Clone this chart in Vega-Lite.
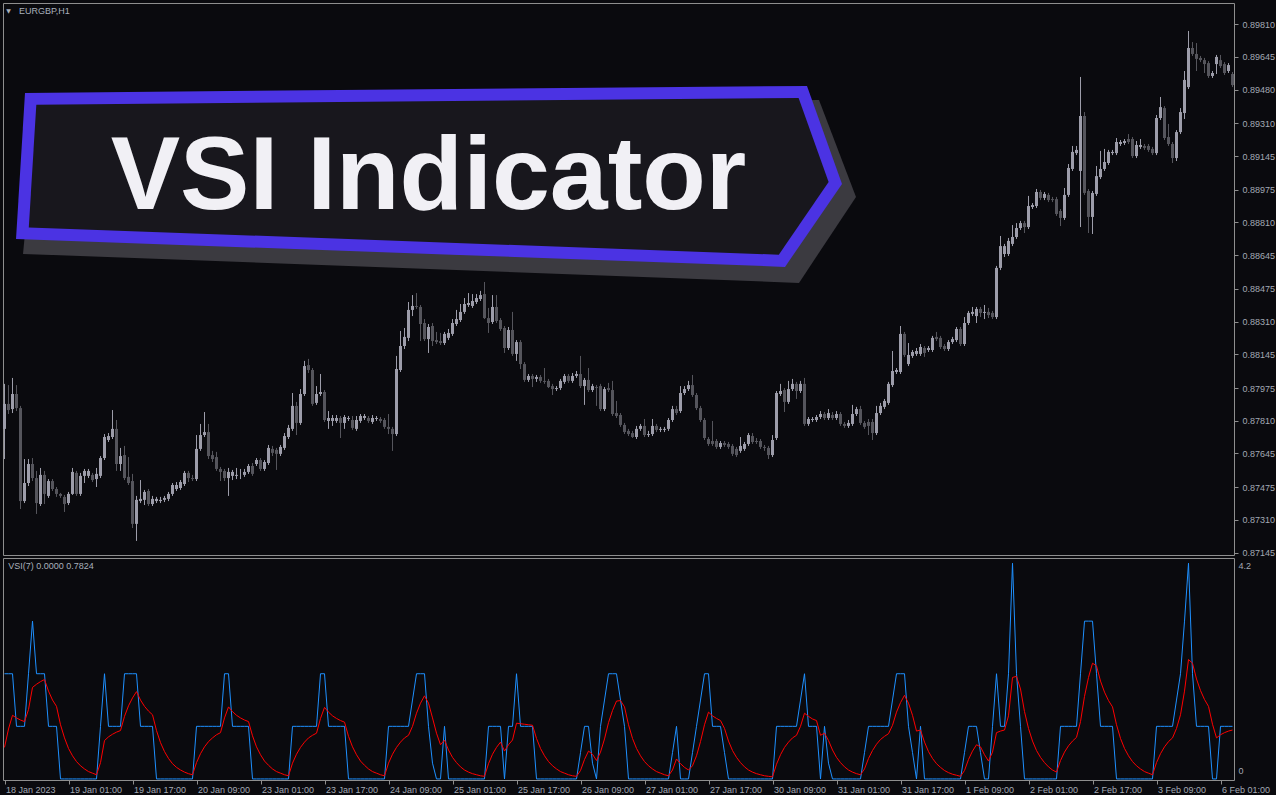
{
"$schema": "https://vega.github.io/schema/vega-lite/v6.json",
"background": "#0a0a0e",
"padding": {"left": 2, "top": 2, "right": 0, "bottom": 0},
"bounds": "flush",
"spacing": 3,
"config": {
  "view": {"stroke": "#8e8e8e", "strokeWidth": 1},
  "scale": {"continuousPadding": 0},
  "axis": {"grid": false, "domain": false, "labelOverlap": false, "labelFont": "Liberation Sans", "labelFontSize": 9, "labelColor": "#a3a9b4", "tickColor": "#8e8e8e"}
},
"datasets": {"d": [
{"i":0,"o":0.87769,"h":0.87996,"l":0.87617,"c":0.87895,"b":2,"r":0.6},
{"i":1,"o":0.87895,"h":0.87990,"l":0.87844,"c":0.87864,"b":2,"r":0.95},
{"i":2,"o":0.87869,"h":0.88026,"l":0.87849,"c":0.87945,"b":2,"r":1.21},
{"i":3,"o":0.87945,"h":0.87990,"l":0.87859,"c":0.87874,"b":1,"r":1.16},
{"i":4,"o":0.87874,"h":0.87885,"l":0.87365,"c":0.87405,"b":1,"r":1.12},
{"i":5,"o":0.87405,"h":0.87617,"l":0.87395,"c":0.87496,"b":1,"r":1.09},
{"i":6,"o":0.87496,"h":0.87617,"l":0.87481,"c":0.87592,"b":2,"r":1.32},
{"i":7,"o":0.87592,"h":0.87622,"l":0.87506,"c":0.87521,"b":3,"r":1.74},
{"i":8,"o":0.87521,"h":0.87557,"l":0.87340,"c":0.87395,"b":2,"r":1.8},
{"i":9,"o":0.87390,"h":0.87572,"l":0.87380,"c":0.87537,"b":2,"r":1.85},
{"i":10,"o":0.87537,"h":0.87557,"l":0.87390,"c":0.87441,"b":2,"r":1.89},
{"i":11,"o":0.87431,"h":0.87516,"l":0.87421,"c":0.87506,"b":1,"r":1.67},
{"i":12,"o":0.87506,"h":0.87516,"l":0.87456,"c":0.87466,"b":1,"r":1.5},
{"i":13,"o":0.87466,"h":0.87476,"l":0.87426,"c":0.87441,"b":1,"r":1.38},
{"i":14,"o":0.87441,"h":0.87446,"l":0.87421,"c":0.87431,"b":0,"r":1.03},
{"i":15,"o":0.87426,"h":0.87436,"l":0.87350,"c":0.87390,"b":0,"r":0.78},
{"i":16,"o":0.87395,"h":0.87451,"l":0.87385,"c":0.87441,"b":0,"r":0.58},
{"i":17,"o":0.87441,"h":0.87572,"l":0.87436,"c":0.87552,"b":0,"r":0.44},
{"i":18,"o":0.87547,"h":0.87557,"l":0.87431,"c":0.87441,"b":0,"r":0.33},
{"i":19,"o":0.87441,"h":0.87547,"l":0.87431,"c":0.87532,"b":0,"r":0.25},
{"i":20,"o":0.87532,"h":0.87567,"l":0.87496,"c":0.87557,"b":0,"r":0.19},
{"i":21,"o":0.87532,"h":0.87567,"l":0.87521,"c":0.87557,"b":0,"r":0.14},
{"i":22,"o":0.87537,"h":0.87547,"l":0.87501,"c":0.87511,"b":0,"r":0.11},
{"i":23,"o":0.87516,"h":0.87572,"l":0.87476,"c":0.87542,"b":0,"r":0.08},
{"i":24,"o":0.87532,"h":0.87632,"l":0.87521,"c":0.87622,"b":1,"r":0.31},
{"i":25,"o":0.87622,"h":0.87743,"l":0.87612,"c":0.87728,"b":2,"r":0.73},
{"i":26,"o":0.87713,"h":0.87748,"l":0.87703,"c":0.87733,"b":1,"r":0.8},
{"i":27,"o":0.87728,"h":0.87864,"l":0.87718,"c":0.87769,"b":1,"r":0.85},
{"i":28,"o":0.87769,"h":0.87814,"l":0.87557,"c":0.87592,"b":1,"r":0.89},
{"i":29,"o":0.87592,"h":0.87673,"l":0.87557,"c":0.87632,"b":1,"r":0.92},
{"i":30,"o":0.87637,"h":0.87683,"l":0.87511,"c":0.87521,"b":2,"r":1.19},
{"i":31,"o":0.87527,"h":0.87627,"l":0.87486,"c":0.87496,"b":2,"r":1.39},
{"i":32,"o":0.87506,"h":0.87542,"l":0.87269,"c":0.87290,"b":2,"r":1.54},
{"i":33,"o":0.87290,"h":0.87431,"l":0.87204,"c":0.87411,"b":2,"r":1.66},
{"i":34,"o":0.87405,"h":0.87511,"l":0.87395,"c":0.87416,"b":1,"r":1.5},
{"i":35,"o":0.87411,"h":0.87461,"l":0.87385,"c":0.87451,"b":1,"r":1.38},
{"i":36,"o":0.87456,"h":0.87466,"l":0.87380,"c":0.87390,"b":1,"r":1.29},
{"i":37,"o":0.87390,"h":0.87431,"l":0.87380,"c":0.87416,"b":1,"r":1.22},
{"i":38,"o":0.87405,"h":0.87426,"l":0.87395,"c":0.87416,"b":0,"r":0.92},
{"i":39,"o":0.87405,"h":0.87426,"l":0.87395,"c":0.87411,"b":0,"r":0.69},
{"i":40,"o":0.87411,"h":0.87431,"l":0.87400,"c":0.87421,"b":0,"r":0.52},
{"i":41,"o":0.87416,"h":0.87451,"l":0.87405,"c":0.87441,"b":0,"r":0.39},
{"i":42,"o":0.87441,"h":0.87496,"l":0.87431,"c":0.87486,"b":0,"r":0.29},
{"i":43,"o":0.87466,"h":0.87501,"l":0.87456,"c":0.87486,"b":0,"r":0.22},
{"i":44,"o":0.87471,"h":0.87511,"l":0.87461,"c":0.87501,"b":0,"r":0.17},
{"i":45,"o":0.87491,"h":0.87557,"l":0.87481,"c":0.87547,"b":0,"r":0.13},
{"i":46,"o":0.87547,"h":0.87557,"l":0.87501,"c":0.87521,"b":0,"r":0.1},
{"i":47,"o":0.87521,"h":0.87537,"l":0.87506,"c":0.87516,"b":0,"r":0.08},
{"i":48,"o":0.87516,"h":0.87738,"l":0.87506,"c":0.87668,"b":1,"r":0.31},
{"i":49,"o":0.87668,"h":0.87794,"l":0.87658,"c":0.87738,"b":1,"r":0.48},
{"i":50,"o":0.87738,"h":0.87854,"l":0.87728,"c":0.87753,"b":1,"r":0.61},
{"i":51,"o":0.87753,"h":0.87794,"l":0.87617,"c":0.87632,"b":1,"r":0.71},
{"i":52,"o":0.87637,"h":0.87658,"l":0.87602,"c":0.87617,"b":1,"r":0.78},
{"i":53,"o":0.87627,"h":0.87653,"l":0.87557,"c":0.87567,"b":1,"r":0.84},
{"i":54,"o":0.87567,"h":0.87577,"l":0.87506,"c":0.87552,"b":1,"r":0.88},
{"i":55,"o":0.87557,"h":0.87567,"l":0.87506,"c":0.87521,"b":2,"r":1.16},
{"i":56,"o":0.87521,"h":0.87572,"l":0.87431,"c":0.87552,"b":2,"r":1.37},
{"i":57,"o":0.87532,"h":0.87562,"l":0.87511,"c":0.87552,"b":1,"r":1.28},
{"i":58,"o":0.87532,"h":0.87572,"l":0.87516,"c":0.87537,"b":1,"r":1.21},
{"i":59,"o":0.87537,"h":0.87567,"l":0.87516,"c":0.87537,"b":1,"r":1.16},
{"i":60,"o":0.87537,"h":0.87567,"l":0.87527,"c":0.87552,"b":1,"r":1.12},
{"i":61,"o":0.87552,"h":0.87592,"l":0.87542,"c":0.87582,"b":1,"r":1.09},
{"i":62,"o":0.87582,"h":0.87597,"l":0.87532,"c":0.87542,"b":0,"r":0.82},
{"i":63,"o":0.87592,"h":0.87622,"l":0.87582,"c":0.87612,"b":0,"r":0.61},
{"i":64,"o":0.87612,"h":0.87622,"l":0.87557,"c":0.87567,"b":0,"r":0.46},
{"i":65,"o":0.87567,"h":0.87612,"l":0.87557,"c":0.87602,"b":0,"r":0.34},
{"i":66,"o":0.87597,"h":0.87688,"l":0.87587,"c":0.87673,"b":0,"r":0.26},
{"i":67,"o":0.87668,"h":0.87683,"l":0.87632,"c":0.87648,"b":0,"r":0.19},
{"i":68,"o":0.87663,"h":0.87673,"l":0.87562,"c":0.87643,"b":0,"r":0.14},
{"i":69,"o":0.87643,"h":0.87688,"l":0.87632,"c":0.87678,"b":0,"r":0.11},
{"i":70,"o":0.87673,"h":0.87748,"l":0.87663,"c":0.87733,"b":0,"r":0.08},
{"i":71,"o":0.87728,"h":0.87789,"l":0.87718,"c":0.87774,"b":0,"r":0.06},
{"i":72,"o":0.87769,"h":0.87950,"l":0.87759,"c":0.87885,"b":1,"r":0.3},
{"i":73,"o":0.87885,"h":0.87905,"l":0.87738,"c":0.87799,"b":1,"r":0.47},
{"i":74,"o":0.87799,"h":0.87970,"l":0.87789,"c":0.87945,"b":1,"r":0.6},
{"i":75,"o":0.87945,"h":0.88112,"l":0.87935,"c":0.88086,"b":1,"r":0.7},
{"i":76,"o":0.88091,"h":0.88122,"l":0.88051,"c":0.88066,"b":1,"r":0.78},
{"i":77,"o":0.88066,"h":0.88076,"l":0.87885,"c":0.87895,"b":1,"r":0.83},
{"i":78,"o":0.87900,"h":0.87985,"l":0.87890,"c":0.87945,"b":1,"r":0.87},
{"i":79,"o":0.87945,"h":0.88046,"l":0.87935,"c":0.87955,"b":2,"r":1.15},
{"i":80,"o":0.87955,"h":0.87965,"l":0.87804,"c":0.87814,"b":2,"r":1.36},
{"i":81,"o":0.87809,"h":0.87859,"l":0.87769,"c":0.87824,"b":1,"r":1.27},
{"i":82,"o":0.87809,"h":0.87839,"l":0.87784,"c":0.87824,"b":1,"r":1.2},
{"i":83,"o":0.87809,"h":0.87839,"l":0.87799,"c":0.87824,"b":1,"r":1.15},
{"i":84,"o":0.87824,"h":0.87834,"l":0.87723,"c":0.87799,"b":1,"r":1.11},
{"i":85,"o":0.87799,"h":0.87839,"l":0.87769,"c":0.87829,"b":1,"r":1.08},
{"i":86,"o":0.87819,"h":0.87834,"l":0.87809,"c":0.87824,"b":0,"r":0.81},
{"i":87,"o":0.87814,"h":0.87834,"l":0.87764,"c":0.87774,"b":0,"r":0.61},
{"i":88,"o":0.87769,"h":0.87834,"l":0.87759,"c":0.87814,"b":0,"r":0.46},
{"i":89,"o":0.87809,"h":0.87844,"l":0.87799,"c":0.87834,"b":0,"r":0.34},
{"i":90,"o":0.87824,"h":0.87844,"l":0.87814,"c":0.87834,"b":0,"r":0.26},
{"i":91,"o":0.87824,"h":0.87834,"l":0.87799,"c":0.87809,"b":0,"r":0.19},
{"i":92,"o":0.87804,"h":0.87839,"l":0.87794,"c":0.87824,"b":0,"r":0.14},
{"i":93,"o":0.87819,"h":0.87834,"l":0.87809,"c":0.87824,"b":0,"r":0.11},
{"i":94,"o":0.87819,"h":0.87829,"l":0.87799,"c":0.87809,"b":0,"r":0.08},
{"i":95,"o":0.87814,"h":0.87824,"l":0.87769,"c":0.87779,"b":0,"r":0.06},
{"i":96,"o":0.87779,"h":0.87844,"l":0.87743,"c":0.87769,"b":1,"r":0.3},
{"i":97,"o":0.87769,"h":0.87779,"l":0.87658,"c":0.87743,"b":1,"r":0.47},
{"i":98,"o":0.87743,"h":0.88137,"l":0.87733,"c":0.88071,"b":1,"r":0.6},
{"i":99,"o":0.88066,"h":0.88263,"l":0.88056,"c":0.88187,"b":1,"r":0.7},
{"i":100,"o":0.88187,"h":0.88278,"l":0.88172,"c":0.88233,"b":1,"r":0.78},
{"i":101,"o":0.88228,"h":0.88409,"l":0.88212,"c":0.88369,"b":1,"r":0.83},
{"i":102,"o":0.88369,"h":0.88444,"l":0.88338,"c":0.88389,"b":1.5,"r":1.0},
{"i":103,"o":0.88389,"h":0.88454,"l":0.88374,"c":0.88384,"b":2,"r":1.25},
{"i":104,"o":0.88384,"h":0.88394,"l":0.88212,"c":0.88298,"b":2,"r":1.44},
{"i":105,"o":0.88303,"h":0.88323,"l":0.88212,"c":0.88222,"b":2,"r":1.58},
{"i":106,"o":0.88222,"h":0.88298,"l":0.88152,"c":0.88283,"b":1,"r":1.44},
{"i":107,"o":0.88288,"h":0.88303,"l":0.88187,"c":0.88212,"b":0.3,"r":1.16},
{"i":108,"o":0.88217,"h":0.88258,"l":0.88197,"c":0.88207,"b":0,"r":0.87},
{"i":109,"o":0.88212,"h":0.88253,"l":0.88192,"c":0.88202,"b":0,"r":0.65},
{"i":110,"o":0.88202,"h":0.88258,"l":0.88192,"c":0.88248,"b":1,"r":0.74},
{"i":111,"o":0.88228,"h":0.88273,"l":0.88217,"c":0.88253,"b":0,"r":0.55},
{"i":112,"o":0.88248,"h":0.88323,"l":0.88238,"c":0.88303,"b":0,"r":0.41},
{"i":113,"o":0.88298,"h":0.88369,"l":0.88288,"c":0.88323,"b":0,"r":0.31},
{"i":114,"o":0.88318,"h":0.88399,"l":0.88308,"c":0.88359,"b":0,"r":0.23},
{"i":115,"o":0.88359,"h":0.88429,"l":0.88349,"c":0.88399,"b":0,"r":0.17},
{"i":116,"o":0.88394,"h":0.88454,"l":0.88384,"c":0.88404,"b":0,"r":0.13},
{"i":117,"o":0.88389,"h":0.88449,"l":0.88379,"c":0.88414,"b":0,"r":0.1},
{"i":118,"o":0.88409,"h":0.88449,"l":0.88399,"c":0.88429,"b":0,"r":0.08},
{"i":119,"o":0.88424,"h":0.88465,"l":0.88414,"c":0.88444,"b":0,"r":0.06},
{"i":120,"o":0.88449,"h":0.88510,"l":0.88323,"c":0.88328,"b":0,"r":0.05},
{"i":121,"o":0.88328,"h":0.88379,"l":0.88253,"c":0.88303,"b":1,"r":0.29},
{"i":122,"o":0.88308,"h":0.88444,"l":0.88298,"c":0.88384,"b":1,"r":0.47},
{"i":123,"o":0.88384,"h":0.88444,"l":0.88303,"c":0.88313,"b":1,"r":0.6},
{"i":124,"o":0.88318,"h":0.88328,"l":0.88263,"c":0.88273,"b":1,"r":0.7},
{"i":125,"o":0.88278,"h":0.88288,"l":0.88152,"c":0.88177,"b":0,"r":0.53},
{"i":126,"o":0.88177,"h":0.88283,"l":0.88167,"c":0.88268,"b":1,"r":0.65},
{"i":127,"o":0.88268,"h":0.88359,"l":0.88137,"c":0.88147,"b":1,"r":0.74},
{"i":128,"o":0.88147,"h":0.88217,"l":0.88112,"c":0.88207,"b":2,"r":1.06},
{"i":129,"o":0.88207,"h":0.88217,"l":0.88071,"c":0.88096,"b":1,"r":1.05},
{"i":130,"o":0.88096,"h":0.88106,"l":0.88006,"c":0.88016,"b":1,"r":1.04},
{"i":131,"o":0.88016,"h":0.88046,"l":0.88006,"c":0.88036,"b":1,"r":1.03},
{"i":132,"o":0.88036,"h":0.88046,"l":0.87980,"c":0.88021,"b":1,"r":1.02},
{"i":133,"o":0.88021,"h":0.88041,"l":0.88006,"c":0.88031,"b":0,"r":0.77},
{"i":134,"o":0.88031,"h":0.88041,"l":0.88001,"c":0.88011,"b":0,"r":0.58},
{"i":135,"o":0.88011,"h":0.88076,"l":0.87996,"c":0.88006,"b":0,"r":0.44},
{"i":136,"o":0.88011,"h":0.88021,"l":0.87975,"c":0.87980,"b":0,"r":0.33},
{"i":137,"o":0.87985,"h":0.87996,"l":0.87940,"c":0.87970,"b":0,"r":0.25},
{"i":138,"o":0.87970,"h":0.87985,"l":0.87960,"c":0.87975,"b":0,"r":0.19},
{"i":139,"o":0.87975,"h":0.88021,"l":0.87965,"c":0.88011,"b":0,"r":0.14},
{"i":140,"o":0.88006,"h":0.88046,"l":0.87996,"c":0.88036,"b":0,"r":0.11},
{"i":141,"o":0.88036,"h":0.88046,"l":0.88001,"c":0.88011,"b":0,"r":0.08},
{"i":142,"o":0.88011,"h":0.88051,"l":0.88001,"c":0.88036,"b":0,"r":0.06},
{"i":143,"o":0.88036,"h":0.88061,"l":0.88026,"c":0.88046,"b":0,"r":0.05},
{"i":144,"o":0.88046,"h":0.88137,"l":0.87975,"c":0.87985,"b":0.5,"r":0.16},
{"i":145,"o":0.87985,"h":0.88026,"l":0.87890,"c":0.88016,"b":1,"r":0.37},
{"i":146,"o":0.88016,"h":0.88076,"l":0.87955,"c":0.87965,"b":1,"r":0.53},
{"i":147,"o":0.87965,"h":0.87996,"l":0.87955,"c":0.87985,"b":0.3,"r":0.47},
{"i":148,"o":0.87980,"h":0.87990,"l":0.87885,"c":0.87975,"b":0,"r":0.35},
{"i":149,"o":0.87985,"h":0.87996,"l":0.87859,"c":0.87869,"b":1,"r":0.51},
{"i":150,"o":0.87869,"h":0.87980,"l":0.87859,"c":0.87970,"b":1.5,"r":0.76},
{"i":151,"o":0.87975,"h":0.88001,"l":0.87955,"c":0.87965,"b":2,"r":1.07},
{"i":152,"o":0.87965,"h":0.88011,"l":0.87834,"c":0.87844,"b":2,"r":1.3},
{"i":153,"o":0.87849,"h":0.87910,"l":0.87824,"c":0.87834,"b":2,"r":1.48},
{"i":154,"o":0.87839,"h":0.87849,"l":0.87779,"c":0.87789,"b":1.5,"r":1.49},
{"i":155,"o":0.87789,"h":0.87799,"l":0.87743,"c":0.87753,"b":1,"r":1.37},
{"i":156,"o":0.87759,"h":0.87769,"l":0.87733,"c":0.87743,"b":0,"r":1.03},
{"i":157,"o":0.87748,"h":0.87759,"l":0.87723,"c":0.87728,"b":0,"r":0.77},
{"i":158,"o":0.87728,"h":0.87784,"l":0.87718,"c":0.87769,"b":0,"r":0.58},
{"i":159,"o":0.87769,"h":0.87794,"l":0.87759,"c":0.87784,"b":0,"r":0.44},
{"i":160,"o":0.87784,"h":0.87819,"l":0.87728,"c":0.87738,"b":0,"r":0.33},
{"i":161,"o":0.87738,"h":0.87759,"l":0.87728,"c":0.87743,"b":0,"r":0.25},
{"i":162,"o":0.87743,"h":0.87819,"l":0.87733,"c":0.87784,"b":0,"r":0.19},
{"i":163,"o":0.87784,"h":0.87794,"l":0.87753,"c":0.87764,"b":0,"r":0.14},
{"i":164,"o":0.87764,"h":0.87779,"l":0.87753,"c":0.87769,"b":0,"r":0.11},
{"i":165,"o":0.87764,"h":0.87779,"l":0.87753,"c":0.87769,"b":0,"r":0.08},
{"i":166,"o":0.87769,"h":0.87824,"l":0.87759,"c":0.87814,"b":0,"r":0.06},
{"i":167,"o":0.87814,"h":0.87885,"l":0.87804,"c":0.87869,"b":0.5,"r":0.17},
{"i":168,"o":0.87869,"h":0.87885,"l":0.87839,"c":0.87849,"b":1,"r":0.38},
{"i":169,"o":0.87859,"h":0.87985,"l":0.87849,"c":0.87950,"b":0,"r":0.29},
{"i":170,"o":0.87950,"h":0.87985,"l":0.87940,"c":0.87970,"b":0,"r":0.22},
{"i":171,"o":0.87970,"h":0.88011,"l":0.87960,"c":0.87990,"b":0,"r":0.17},
{"i":172,"o":0.87990,"h":0.88041,"l":0.87930,"c":0.87940,"b":0.5,"r":0.25},
{"i":173,"o":0.87940,"h":0.87950,"l":0.87864,"c":0.87874,"b":1,"r":0.44},
{"i":174,"o":0.87874,"h":0.87885,"l":0.87804,"c":0.87814,"b":1.5,"r":0.71},
{"i":175,"o":0.87814,"h":0.87824,"l":0.87713,"c":0.87723,"b":2,"r":1.03},
{"i":176,"o":0.87718,"h":0.87728,"l":0.87683,"c":0.87693,"b":2,"r":1.27},
{"i":177,"o":0.87708,"h":0.87809,"l":0.87683,"c":0.87693,"b":1,"r":1.2},
{"i":178,"o":0.87708,"h":0.87718,"l":0.87668,"c":0.87678,"b":1,"r":1.15},
{"i":179,"o":0.87678,"h":0.87708,"l":0.87668,"c":0.87698,"b":1,"r":1.11},
{"i":180,"o":0.87698,"h":0.87708,"l":0.87678,"c":0.87688,"b":0.5,"r":0.96},
{"i":181,"o":0.87693,"h":0.87703,"l":0.87668,"c":0.87678,"b":0,"r":0.72},
{"i":182,"o":0.87683,"h":0.87693,"l":0.87632,"c":0.87643,"b":0,"r":0.54},
{"i":183,"o":0.87668,"h":0.87678,"l":0.87627,"c":0.87637,"b":0,"r":0.41},
{"i":184,"o":0.87658,"h":0.87728,"l":0.87648,"c":0.87683,"b":0,"r":0.31},
{"i":185,"o":0.87668,"h":0.87703,"l":0.87658,"c":0.87693,"b":0,"r":0.23},
{"i":186,"o":0.87693,"h":0.87748,"l":0.87683,"c":0.87738,"b":0,"r":0.17},
{"i":187,"o":0.87733,"h":0.87748,"l":0.87693,"c":0.87703,"b":0,"r":0.13},
{"i":188,"o":0.87708,"h":0.87723,"l":0.87693,"c":0.87703,"b":0,"r":0.1},
{"i":189,"o":0.87708,"h":0.87718,"l":0.87668,"c":0.87678,"b":0,"r":0.08},
{"i":190,"o":0.87678,"h":0.87688,"l":0.87658,"c":0.87673,"b":0,"r":0.06},
{"i":191,"o":0.87673,"h":0.87683,"l":0.87617,"c":0.87637,"b":0,"r":0.05},
{"i":192,"o":0.87637,"h":0.87738,"l":0.87627,"c":0.87713,"b":0,"r":0.04},
{"i":193,"o":0.87723,"h":0.87960,"l":0.87713,"c":0.87950,"b":1,"r":0.28},
{"i":194,"o":0.87945,"h":0.87996,"l":0.87935,"c":0.87960,"b":1,"r":0.46},
{"i":195,"o":0.87965,"h":0.87975,"l":0.87854,"c":0.87905,"b":1,"r":0.6},
{"i":196,"o":0.87905,"h":0.88011,"l":0.87895,"c":0.87970,"b":1,"r":0.7},
{"i":197,"o":0.87970,"h":0.88021,"l":0.87960,"c":0.87996,"b":1,"r":0.78},
{"i":198,"o":0.87996,"h":0.88006,"l":0.87920,"c":0.87960,"b":1,"r":0.83},
{"i":199,"o":0.87960,"h":0.88011,"l":0.87950,"c":0.87996,"b":1.5,"r":1.0},
{"i":200,"o":0.87996,"h":0.88026,"l":0.87784,"c":0.87794,"b":2,"r":1.25},
{"i":201,"o":0.87794,"h":0.87829,"l":0.87784,"c":0.87819,"b":1,"r":1.19},
{"i":202,"o":0.87814,"h":0.87829,"l":0.87804,"c":0.87819,"b":1,"r":1.14},
{"i":203,"o":0.87814,"h":0.87839,"l":0.87804,"c":0.87829,"b":1,"r":1.11},
{"i":204,"o":0.87829,"h":0.87859,"l":0.87819,"c":0.87844,"b":0,"r":0.83},
{"i":205,"o":0.87844,"h":0.87854,"l":0.87814,"c":0.87824,"b":1,"r":0.87},
{"i":206,"o":0.87824,"h":0.87869,"l":0.87814,"c":0.87849,"b":0.3,"r":0.73},
{"i":207,"o":0.87839,"h":0.87854,"l":0.87814,"c":0.87824,"b":0,"r":0.55},
{"i":208,"o":0.87824,"h":0.87859,"l":0.87814,"c":0.87844,"b":0,"r":0.41},
{"i":209,"o":0.87844,"h":0.87854,"l":0.87784,"c":0.87794,"b":0,"r":0.31},
{"i":210,"o":0.87794,"h":0.87804,"l":0.87774,"c":0.87784,"b":0,"r":0.23},
{"i":211,"o":0.87784,"h":0.87814,"l":0.87774,"c":0.87799,"b":0,"r":0.17},
{"i":212,"o":0.87794,"h":0.87890,"l":0.87784,"c":0.87844,"b":0,"r":0.13},
{"i":213,"o":0.87844,"h":0.87880,"l":0.87834,"c":0.87869,"b":0,"r":0.1},
{"i":214,"o":0.87869,"h":0.87885,"l":0.87789,"c":0.87799,"b":0,"r":0.08},
{"i":215,"o":0.87799,"h":0.87809,"l":0.87769,"c":0.87779,"b":0.5,"r":0.19},
{"i":216,"o":0.87804,"h":0.87819,"l":0.87738,"c":0.87784,"b":1,"r":0.39},
{"i":217,"o":0.87804,"h":0.87819,"l":0.87713,"c":0.87748,"b":1,"r":0.54},
{"i":218,"o":0.87748,"h":0.87885,"l":0.87738,"c":0.87849,"b":1,"r":0.66},
{"i":219,"o":0.87849,"h":0.87900,"l":0.87839,"c":0.87885,"b":1,"r":0.75},
{"i":220,"o":0.87880,"h":0.87920,"l":0.87869,"c":0.87910,"b":1,"r":0.81},
{"i":221,"o":0.87900,"h":0.88006,"l":0.87890,"c":0.87996,"b":1,"r":0.86},
{"i":222,"o":0.87990,"h":0.88162,"l":0.87980,"c":0.88061,"b":1.5,"r":1.02},
{"i":223,"o":0.88056,"h":0.88076,"l":0.88046,"c":0.88066,"b":2,"r":1.27},
{"i":224,"o":0.88056,"h":0.88288,"l":0.88046,"c":0.88248,"b":2,"r":1.45},
{"i":225,"o":0.88248,"h":0.88258,"l":0.88132,"c":0.88142,"b":2,"r":1.59},
{"i":226,"o":0.88096,"h":0.88202,"l":0.88086,"c":0.88142,"b":1,"r":1.44},
{"i":227,"o":0.88137,"h":0.88167,"l":0.88127,"c":0.88157,"b":0.5,"r":1.21},
{"i":228,"o":0.88147,"h":0.88177,"l":0.88137,"c":0.88162,"b":0,"r":0.91},
{"i":229,"o":0.88147,"h":0.88197,"l":0.88137,"c":0.88182,"b":1,"r":0.93},
{"i":230,"o":0.88177,"h":0.88187,"l":0.88132,"c":0.88152,"b":0,"r":0.7},
{"i":231,"o":0.88167,"h":0.88187,"l":0.88157,"c":0.88177,"b":0,"r":0.52},
{"i":232,"o":0.88167,"h":0.88238,"l":0.88157,"c":0.88228,"b":0,"r":0.39},
{"i":233,"o":0.88233,"h":0.88258,"l":0.88212,"c":0.88222,"b":0,"r":0.29},
{"i":234,"o":0.88228,"h":0.88238,"l":0.88172,"c":0.88182,"b":0,"r":0.22},
{"i":235,"o":0.88187,"h":0.88197,"l":0.88162,"c":0.88172,"b":0,"r":0.16},
{"i":236,"o":0.88172,"h":0.88217,"l":0.88162,"c":0.88207,"b":0,"r":0.12},
{"i":237,"o":0.88207,"h":0.88233,"l":0.88197,"c":0.88222,"b":0,"r":0.09},
{"i":238,"o":0.88217,"h":0.88283,"l":0.88207,"c":0.88273,"b":0,"r":0.07},
{"i":239,"o":0.88273,"h":0.88283,"l":0.88187,"c":0.88197,"b":0,"r":0.05},
{"i":240,"o":0.88197,"h":0.88333,"l":0.88187,"c":0.88303,"b":0.5,"r":0.16},
{"i":241,"o":0.88303,"h":0.88364,"l":0.88293,"c":0.88354,"b":1,"r":0.37},
{"i":242,"o":0.88349,"h":0.88384,"l":0.88338,"c":0.88359,"b":1,"r":0.53},
{"i":243,"o":0.88338,"h":0.88384,"l":0.88303,"c":0.88374,"b":1,"r":0.65},
{"i":244,"o":0.88374,"h":0.88384,"l":0.88333,"c":0.88354,"b":0.5,"r":0.61},
{"i":245,"o":0.88354,"h":0.88394,"l":0.88323,"c":0.88359,"b":0,"r":0.46},
{"i":246,"o":0.88359,"h":0.88379,"l":0.88328,"c":0.88343,"b":0,"r":0.34},
{"i":247,"o":0.88354,"h":0.88364,"l":0.88323,"c":0.88333,"b":1,"r":0.51},
{"i":248,"o":0.88333,"h":0.88591,"l":0.88323,"c":0.88581,"b":2,"r":0.88},
{"i":249,"o":0.88581,"h":0.88742,"l":0.88570,"c":0.88691,"b":1,"r":0.91},
{"i":250,"o":0.88651,"h":0.88702,"l":0.88636,"c":0.88691,"b":1,"r":0.93},
{"i":251,"o":0.88651,"h":0.88732,"l":0.88641,"c":0.88717,"b":2,"r":1.2},
{"i":252,"o":0.88702,"h":0.88797,"l":0.88691,"c":0.88737,"b":4.1,"r":1.93},
{"i":253,"o":0.88737,"h":0.88807,"l":0.88727,"c":0.88782,"b":2,"r":1.95},
{"i":254,"o":0.88782,"h":0.88818,"l":0.88772,"c":0.88807,"b":1,"r":1.71},
{"i":255,"o":0.88807,"h":0.88818,"l":0.88757,"c":0.88787,"b":0,"r":1.28},
{"i":256,"o":0.88787,"h":0.88944,"l":0.88777,"c":0.88893,"b":0,"r":0.96},
{"i":257,"o":0.88888,"h":0.88908,"l":0.88878,"c":0.88898,"b":0,"r":0.72},
{"i":258,"o":0.88893,"h":0.88979,"l":0.88883,"c":0.88964,"b":0,"r":0.54},
{"i":259,"o":0.88964,"h":0.88974,"l":0.88923,"c":0.88934,"b":0,"r":0.41},
{"i":260,"o":0.88934,"h":0.88964,"l":0.88923,"c":0.88954,"b":0,"r":0.31},
{"i":261,"o":0.88949,"h":0.88959,"l":0.88913,"c":0.88923,"b":0,"r":0.23},
{"i":262,"o":0.88928,"h":0.88939,"l":0.88913,"c":0.88923,"b":0,"r":0.17},
{"i":263,"o":0.88928,"h":0.88939,"l":0.88843,"c":0.88853,"b":0,"r":0.13},
{"i":264,"o":0.88868,"h":0.88878,"l":0.88792,"c":0.88833,"b":1,"r":0.35},
{"i":265,"o":0.88833,"h":0.88984,"l":0.88823,"c":0.88949,"b":1,"r":0.51},
{"i":266,"o":0.88949,"h":0.89105,"l":0.88939,"c":0.89085,"b":1,"r":0.63},
{"i":267,"o":0.89080,"h":0.89196,"l":0.89070,"c":0.89166,"b":1,"r":0.72},
{"i":268,"o":0.89160,"h":0.89196,"l":0.89150,"c":0.89176,"b":1,"r":0.79},
{"i":269,"o":0.89070,"h":0.89544,"l":0.88787,"c":0.89347,"b":2,"r":1.09},
{"i":270,"o":0.89347,"h":0.89367,"l":0.88949,"c":0.88959,"b":3,"r":1.57},
{"i":271,"o":0.88969,"h":0.88979,"l":0.88757,"c":0.88838,"b":3,"r":1.93},
{"i":272,"o":0.88838,"h":0.88969,"l":0.88752,"c":0.88959,"b":3,"r":2.2},
{"i":273,"o":0.88954,"h":0.89095,"l":0.88944,"c":0.89044,"b":2,"r":2.15},
{"i":274,"o":0.89039,"h":0.89171,"l":0.89029,"c":0.89080,"b":1,"r":1.86},
{"i":275,"o":0.89080,"h":0.89181,"l":0.89070,"c":0.89115,"b":1,"r":1.65},
{"i":276,"o":0.89110,"h":0.89176,"l":0.89100,"c":0.89166,"b":1,"r":1.49},
{"i":277,"o":0.89160,"h":0.89176,"l":0.89150,"c":0.89166,"b":1,"r":1.37},
{"i":278,"o":0.89160,"h":0.89236,"l":0.89150,"c":0.89216,"b":0,"r":1.03},
{"i":279,"o":0.89206,"h":0.89226,"l":0.89196,"c":0.89216,"b":0,"r":0.77},
{"i":280,"o":0.89211,"h":0.89231,"l":0.89201,"c":0.89221,"b":0,"r":0.58},
{"i":281,"o":0.89231,"h":0.89256,"l":0.89206,"c":0.89216,"b":0,"r":0.44},
{"i":282,"o":0.89231,"h":0.89241,"l":0.89135,"c":0.89145,"b":0,"r":0.33},
{"i":283,"o":0.89145,"h":0.89221,"l":0.89135,"c":0.89201,"b":0,"r":0.25},
{"i":284,"o":0.89191,"h":0.89231,"l":0.89181,"c":0.89201,"b":0,"r":0.19},
{"i":285,"o":0.89196,"h":0.89206,"l":0.89176,"c":0.89186,"b":0,"r":0.14},
{"i":286,"o":0.89196,"h":0.89206,"l":0.89166,"c":0.89176,"b":0,"r":0.11},
{"i":287,"o":0.89181,"h":0.89191,"l":0.89150,"c":0.89160,"b":0,"r":0.08},
{"i":288,"o":0.89160,"h":0.89352,"l":0.89150,"c":0.89337,"b":1,"r":0.31},
{"i":289,"o":0.89337,"h":0.89443,"l":0.89327,"c":0.89392,"b":1,"r":0.48},
{"i":290,"o":0.89387,"h":0.89397,"l":0.89226,"c":0.89236,"b":1,"r":0.61},
{"i":291,"o":0.89241,"h":0.89307,"l":0.89196,"c":0.89206,"b":1,"r":0.71},
{"i":292,"o":0.89206,"h":0.89216,"l":0.89110,"c":0.89135,"b":1,"r":0.78},
{"i":293,"o":0.89135,"h":0.89276,"l":0.89120,"c":0.89266,"b":1.5,"r":0.96},
{"i":294,"o":0.89266,"h":0.89387,"l":0.89256,"c":0.89367,"b":2,"r":1.22},
{"i":295,"o":0.89362,"h":0.89574,"l":0.89332,"c":0.89529,"b":3,"r":1.67},
{"i":296,"o":0.89493,"h":0.89776,"l":0.89483,"c":0.89690,"b":4.1,"r":2.27},
{"i":297,"o":0.89690,"h":0.89720,"l":0.89650,"c":0.89660,"b":2,"r":2.2},
{"i":298,"o":0.89660,"h":0.89715,"l":0.89574,"c":0.89635,"b":1,"r":1.9},
{"i":299,"o":0.89640,"h":0.89650,"l":0.89619,"c":0.89629,"b":1,"r":1.68},
{"i":300,"o":0.89629,"h":0.89640,"l":0.89564,"c":0.89609,"b":1,"r":1.51},
{"i":301,"o":0.89614,"h":0.89624,"l":0.89539,"c":0.89549,"b":1,"r":1.38},
{"i":302,"o":0.89549,"h":0.89574,"l":0.89539,"c":0.89564,"b":0,"r":1.04},
{"i":303,"o":0.89609,"h":0.89655,"l":0.89559,"c":0.89645,"b":0,"r":0.78},
{"i":304,"o":0.89629,"h":0.89655,"l":0.89589,"c":0.89599,"b":1,"r":0.84},
{"i":305,"o":0.89609,"h":0.89619,"l":0.89554,"c":0.89564,"b":1,"r":0.88},
{"i":306,"o":0.89574,"h":0.89614,"l":0.89564,"c":0.89604,"b":1,"r":0.91},
{"i":307,"o":0.89559,"h":0.89569,"l":0.89493,"c":0.89503,"b":1,"r":0.93}
]},
"vconcat": [
{
  "width": 1231, "height": 552,
  "data": {"name": "d"},
  "layer": [
    {"mark": {"type": "rule", "strokeWidth": 1},
     "encoding": {
       "x": {"field": "i", "type": "quantitative", "scale": {"domain": [-0.375, 307.375], "nice": false, "zero": false, "padding": 0}, "axis": null},
       "y": {"field": "l", "type": "quantitative", "scale": {"domain": [0.87133, 0.89917], "nice": false, "zero": false, "padding": 0},
             "axis": {"orient": "right", "title": null, "values": [0.87145,0.8731,0.87475,0.87645,0.8781,0.87975,0.88145,0.8831,0.88475,0.88645,0.8881,0.88975,0.89145,0.8931,0.8948,0.89645,0.8981], "format": ".5f", "tickSize": 4, "labelPadding": 4, "labelFlush": false, "labelOverlap": false}},
       "y2": {"field": "h"},
       "color": {"condition": {"test": "datum.c >= datum.o", "value": "#9d9daa"}, "value": "#55555c"}
     }},
    {"mark": {"type": "bar", "size": 3, "orient": "vertical"},
     "encoding": {
       "x": {"field": "i", "type": "quantitative", "scale": {"domain": [-0.375, 307.375], "nice": false, "zero": false, "padding": 0}, "axis": null},
       "y": {"field": "o", "type": "quantitative", "scale": {"domain": [0.87133, 0.89917], "nice": false, "zero": false, "padding": 0},
             "axis": {"orient": "right", "title": null, "values": [0.87145,0.8731,0.87475,0.87645,0.8781,0.87975,0.88145,0.8831,0.88475,0.88645,0.8881,0.88975,0.89145,0.8931,0.8948,0.89645,0.8981], "format": ".5f", "tickSize": 4, "labelPadding": 4, "labelFlush": false, "labelOverlap": false}},
       "y2": {"field": "c"},
       "color": {"condition": {"test": "datum.c >= datum.o", "value": "#9d9daa"}, "value": "#55555c"}
     }},
    {"data": {"values": [{}]},
     "mark": {"type": "point", "shape": "M-391.5,-70L390.5,-77L427.5,20L370.5,106L-405.5,77Z", "size": 4, "filled": true, "fill": "#3b3a40", "strokeWidth": 0, "opacity": 1},
     "encoding": {
       "x": {"datum": 106, "type": "quantitative", "scale": {"domain": [-0.375, 307.375], "nice": false, "zero": false, "padding": 0}, "axis": null},
       "y": {"datum": 0.8904, "type": "quantitative", "scale": {"domain": [0.87133, 0.89917], "nice": false, "zero": false, "padding": 0},
             "axis": {"orient": "right", "title": null, "values": [0.87145,0.8731,0.87475,0.87645,0.8781,0.87975,0.88145,0.8831,0.88475,0.88645,0.8881,0.88975,0.89145,0.8931,0.8948,0.89645,0.8981], "format": ".5f", "tickSize": 4, "labelPadding": 4, "labelFlush": false, "labelOverlap": false}}
     }},
    {"data": {"values": [{}]},
     "mark": {"type": "point", "shape": "M-403.5,-84L378.5,-91L413.5,7L356.5,90L-412.5,62Z", "size": 4, "filled": true, "fill": "#4b33e3", "strokeWidth": 0, "opacity": 1},
     "encoding": {
       "x": {"datum": 106, "type": "quantitative", "scale": {"domain": [-0.375, 307.375], "nice": false, "zero": false, "padding": 0}, "axis": null},
       "y": {"datum": 0.8904, "type": "quantitative", "scale": {"domain": [0.87133, 0.89917], "nice": false, "zero": false, "padding": 0},
             "axis": {"orient": "right", "title": null, "values": [0.87145,0.8731,0.87475,0.87645,0.8781,0.87975,0.88145,0.8831,0.88475,0.88645,0.8881,0.88975,0.89145,0.8931,0.8948,0.89645,0.8981], "format": ".5f", "tickSize": 4, "labelPadding": 4, "labelFlush": false, "labelOverlap": false}}
     }},
    {"data": {"values": [{}]},
     "mark": {"type": "point", "shape": "M-392.2,-72.1L370.1,-78.9L400.1,5.2L350.3,77.8L-399.7,50.5Z", "size": 4, "filled": true, "fill": "#18171d", "strokeWidth": 0, "opacity": 1},
     "encoding": {
       "x": {"datum": 106, "type": "quantitative", "scale": {"domain": [-0.375, 307.375], "nice": false, "zero": false, "padding": 0}, "axis": null},
       "y": {"datum": 0.8904, "type": "quantitative", "scale": {"domain": [0.87133, 0.89917], "nice": false, "zero": false, "padding": 0},
             "axis": {"orient": "right", "title": null, "values": [0.87145,0.8731,0.87475,0.87645,0.8781,0.87975,0.88145,0.8831,0.88475,0.88645,0.8881,0.88975,0.89145,0.8931,0.8948,0.89645,0.8981], "format": ".5f", "tickSize": 4, "labelPadding": 4, "labelFlush": false, "labelOverlap": false}}
     }},
    {"data": {"values": [{}]},
     "mark": {"type": "text", "text": "VSI Indicator", "font": "Liberation Sans", "fontSize": 104, "fontWeight": "bold", "color": "#f1f0f5", "align": "center", "baseline": "alphabetic"},
     "encoding": {
       "x": {"datum": 106, "type": "quantitative", "scale": {"domain": [-0.375, 307.375], "nice": false, "zero": false, "padding": 0}, "axis": null},
       "y": {"datum": 0.88878, "type": "quantitative", "scale": {"domain": [0.87133, 0.89917], "nice": false, "zero": false, "padding": 0},
             "axis": {"orient": "right", "title": null, "values": [0.87145,0.8731,0.87475,0.87645,0.8781,0.87975,0.88145,0.8831,0.88475,0.88645,0.8881,0.88975,0.89145,0.8931,0.8948,0.89645,0.8981], "format": ".5f", "tickSize": 4, "labelPadding": 4, "labelFlush": false, "labelOverlap": false}}
     }},
    {"data": {"values": [{}]},
     "mark": {"type": "text", "text": "▼", "font": "DejaVu Sans", "fontSize": 6, "color": "#a9b0bc", "align": "center", "baseline": "middle"},
     "encoding": {
       "x": {"datum": 1.0, "type": "quantitative", "scale": {"domain": [-0.375, 307.375], "nice": false, "zero": false, "padding": 0}, "axis": null},
       "y": {"datum": 0.89877, "type": "quantitative", "scale": {"domain": [0.87133, 0.89917], "nice": false, "zero": false, "padding": 0},
             "axis": {"orient": "right", "title": null, "values": [0.87145,0.8731,0.87475,0.87645,0.8781,0.87975,0.88145,0.8831,0.88475,0.88645,0.8881,0.88975,0.89145,0.8931,0.8948,0.89645,0.8981], "format": ".5f", "tickSize": 4, "labelPadding": 4, "labelFlush": false, "labelOverlap": false}}
     }},
    {"data": {"values": [{}]},
     "mark": {"type": "text", "text": "EURGBP,H1", "font": "Liberation Sans", "fontSize": 9, "color": "#a9b0bc", "align": "left", "baseline": "middle"},
     "encoding": {
       "x": {"datum": 3.6, "type": "quantitative", "scale": {"domain": [-0.375, 307.375], "nice": false, "zero": false, "padding": 0}, "axis": null},
       "y": {"datum": 0.89877, "type": "quantitative", "scale": {"domain": [0.87133, 0.89917], "nice": false, "zero": false, "padding": 0},
             "axis": {"orient": "right", "title": null, "values": [0.87145,0.8731,0.87475,0.87645,0.8781,0.87975,0.88145,0.8831,0.88475,0.88645,0.8881,0.88975,0.89145,0.8931,0.8948,0.89645,0.8981], "format": ".5f", "tickSize": 4, "labelPadding": 4, "labelFlush": false, "labelOverlap": false}}
     }}
  ]
},
{
  "width": 1231, "height": 222,
  "data": {"name": "d"},
  "layer": [
    {"mark": {"type": "line", "color": "#1e90ff", "strokeWidth": 1},
     "encoding": {
       "x": {"field": "i", "type": "quantitative", "scale": {"domain": [-0.375, 307.375], "nice": false, "zero": false, "padding": 0},
             "axis": {"title": null, "values": [0,16,32,48,64,80,96,112,128,144,160,176,192,208,224,240,256,272,288,304],
                      "labelExpr": "['18 Jan 2023','19 Jan 01:00','19 Jan 17:00','20 Jan 09:00','23 Jan 01:00','23 Jan 17:00','24 Jan 09:00','25 Jan 01:00','25 Jan 17:00','26 Jan 09:00','27 Jan 01:00','27 Jan 17:00','30 Jan 09:00','31 Jan 01:00','31 Jan 17:00','1 Feb 09:00','2 Feb 01:00','2 Feb 17:00','3 Feb 09:00','6 Feb 01:00'][round(datum.value/16)]",
                      "labelAlign": "left", "labelBaseline": "top", "labelFlush": false, "labelOverlap": false, "tickSize": 4, "labelPadding": 1, "labelOffset": 1}},
       "y": {"field": "b", "type": "quantitative", "scale": {"domain": [-0.02, 4.2], "nice": false, "zero": false, "padding": 0},
             "axis": {"orient": "right", "title": null, "values": [0, 4.2], "labelExpr": "datum.value == 0 ? '0' : '4.2'", "ticks": false, "labelPadding": 4, "labelFlush": 2, "labelFlushOffset": -3, "labelOverlap": false}}
     }},
    {"mark": {"type": "line", "color": "#ff0000", "strokeWidth": 1},
     "encoding": {
       "x": {"field": "i", "type": "quantitative", "scale": {"domain": [-0.375, 307.375], "nice": false, "zero": false, "padding": 0},
             "axis": {"title": null, "values": [0,16,32,48,64,80,96,112,128,144,160,176,192,208,224,240,256,272,288,304],
                      "labelExpr": "['18 Jan 2023','19 Jan 01:00','19 Jan 17:00','20 Jan 09:00','23 Jan 01:00','23 Jan 17:00','24 Jan 09:00','25 Jan 01:00','25 Jan 17:00','26 Jan 09:00','27 Jan 01:00','27 Jan 17:00','30 Jan 09:00','31 Jan 01:00','31 Jan 17:00','1 Feb 09:00','2 Feb 01:00','2 Feb 17:00','3 Feb 09:00','6 Feb 01:00'][round(datum.value/16)]",
                      "labelAlign": "left", "labelBaseline": "top", "labelFlush": false, "labelOverlap": false, "tickSize": 4, "labelPadding": 1, "labelOffset": 1}},
       "y": {"field": "r", "type": "quantitative", "scale": {"domain": [-0.02, 4.2], "nice": false, "zero": false, "padding": 0},
             "axis": {"orient": "right", "title": null, "values": [0, 4.2], "labelExpr": "datum.value == 0 ? '0' : '4.2'", "ticks": false, "labelPadding": 4, "labelFlush": 2, "labelFlushOffset": -3, "labelOverlap": false}}
     }},
    {"data": {"values": [{}]},
     "mark": {"type": "text", "text": "VSI(7) 0.0000 0.7824", "font": "Liberation Sans", "fontSize": 9, "color": "#a9b0bc", "align": "left", "baseline": "middle"},
     "encoding": {
       "x": {"datum": 0.95, "type": "quantitative", "scale": {"domain": [-0.375, 307.375], "nice": false, "zero": false, "padding": 0},
             "axis": {"title": null, "values": [0,16,32,48,64,80,96,112,128,144,160,176,192,208,224,240,256,272,288,304],
                      "labelExpr": "['18 Jan 2023','19 Jan 01:00','19 Jan 17:00','20 Jan 09:00','23 Jan 01:00','23 Jan 17:00','24 Jan 09:00','25 Jan 01:00','25 Jan 17:00','26 Jan 09:00','27 Jan 01:00','27 Jan 17:00','30 Jan 09:00','31 Jan 01:00','31 Jan 17:00','1 Feb 09:00','2 Feb 01:00','2 Feb 17:00','3 Feb 09:00','6 Feb 01:00'][round(datum.value/16)]",
                      "labelAlign": "left", "labelBaseline": "top", "labelFlush": false, "labelOverlap": false, "tickSize": 4, "labelPadding": 1, "labelOffset": 1}},
       "y": {"datum": 4.05, "type": "quantitative", "scale": {"domain": [-0.02, 4.2], "nice": false, "zero": false, "padding": 0},
             "axis": {"orient": "right", "title": null, "values": [0, 4.2], "labelExpr": "datum.value == 0 ? '0' : '4.2'", "ticks": false, "labelPadding": 4, "labelFlush": 2, "labelFlushOffset": -3, "labelOverlap": false}}
     }}
  ]
}
]
}
